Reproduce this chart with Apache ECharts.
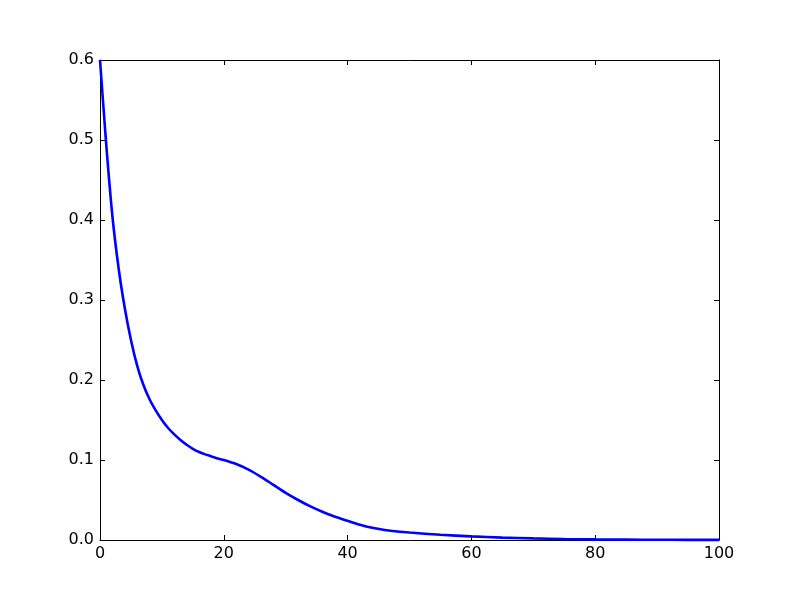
<!DOCTYPE html>
<html>
<head>
<meta charset="utf-8">
<script src="https://cdn.jsdelivr.net/npm/echarts@6/dist/echarts.min.js"></script>
<style>
  html, body { margin: 0; padding: 0; background: #fff; }
  #chart { width: 800px; height: 600px; }
</style>
</head>
<body>
<div id="chart"></div>
<script>
// values
const xs = [0, 1, 2, 3, 4, 5, 6, 7, 8, 9, 10, 11, 12, 13, 14, 15, 16, 17, 18, 19, 20,
  22, 24, 26, 28, 30, 32, 34, 36, 38, 40, 42, 44, 46, 48, 50,
  55, 60, 65, 70, 75, 80, 85, 90, 95, 100]
const ys = [0.6, 0.495, 0.405, 0.34, 0.29, 0.25, 0.218, 0.194, 0.176, 0.162, 0.15, 0.14, 0.132, 0.125, 0.119, 0.114, 0.11, 0.107, 0.1045, 0.102, 0.1,
  0.095, 0.088, 0.079, 0.069, 0.059, 0.05, 0.042, 0.035, 0.029, 0.024, 0.019, 0.0152, 0.0126, 0.0107, 0.0093,
  0.0065, 0.0045, 0.003, 0.002, 0.0013, 0.0008, 0.0005, 0.0003, 0.0002, 0.0001]
const xTicks = [0, 20, 40, 60, 80, 100]
const yTicks = [0, 0.1, 0.2, 0.3, 0.4, 0.5, 0.6]

const chart = echarts.init(document.getElementById('chart'))

const labelFont = { color: '#000', fontSize: 16, fontFamily: 'DejaVu Sans' }
const inTick = { show: true, inside: true, length: 5, lineStyle: { color: '#000', width: 1 } }
const frameLine = { show: true, onZero: false, lineStyle: { color: '#000', width: 1 } }

const option = {
  animation: false,
  backgroundColor: '#fff',
  grid: { left: 100, right: 81, top: 60, bottom: 60 },
  xAxis: [
    {
      type: 'value', min: xTicks[0], max: xTicks[xTicks.length - 1], interval: 20,
      position: 'bottom',
      axisLine: frameLine,
      axisTick: inTick,
      splitLine: { show: false },
      axisLabel: { ...labelFont, margin: 6 }
    },
    {
      type: 'value', min: 0, max: 100, interval: 20,
      position: 'top',
      axisLine: frameLine,
      axisTick: inTick,
      splitLine: { show: false },
      axisLabel: { show: false }
    }
  ],
  yAxis: [
    {
      type: 'value', min: yTicks[0], max: yTicks[yTicks.length - 1], interval: 0.1,
      position: 'left',
      axisLine: frameLine,
      axisTick: inTick,
      splitLine: { show: false },
      axisLabel: { ...labelFont, margin: 6, formatter: v => v.toFixed(1) }
    },
    {
      type: 'value', min: 0, max: 0.6, interval: 0.1,
      position: 'right',
      axisLine: frameLine,
      axisTick: inTick,
      splitLine: { show: false },
      axisLabel: { show: false }
    }
  ],
  series: [
    {
      type: 'line',
      xAxisIndex: 0,
      yAxisIndex: 0,
      data: xs.map((x, i) => [x, ys[i]]),
      showSymbol: false,
      smooth: 0.25,
      lineStyle: { color: '#0000ff', width: 2.6 },
      clip: false
    }
  ]
}

chart.setOption(option)
</script>
</body>
</html>
